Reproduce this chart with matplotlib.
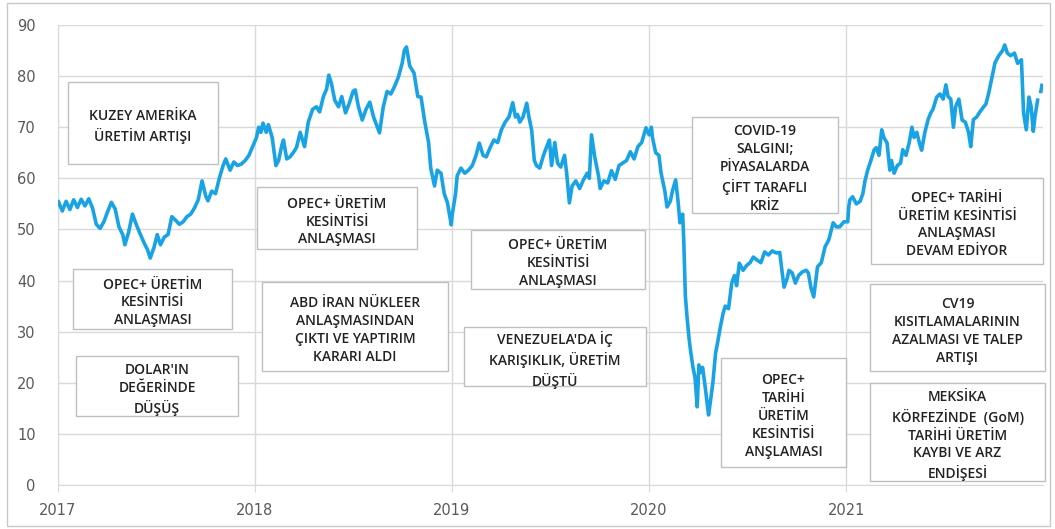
import matplotlib
matplotlib.use("Agg")
import matplotlib.pyplot as plt
from matplotlib.patches import Rectangle
import numpy as np
import pandas as pd

# ---------------- data (Brent, USD/bbl) ----------------
dates_2017 = ["2017-01-02","2017-01-09","2017-01-16","2017-01-23","2017-01-30","2017-02-06","2017-02-13",
              "2017-02-20","2017-02-27","2017-03-06","2017-03-13","2017-03-20","2017-03-27","2017-04-03",
              "2017-04-10","2017-04-17","2017-04-24","2017-05-01","2017-05-05","2017-05-12","2017-05-19",
              "2017-05-26","2017-06-02","2017-06-09","2017-06-16","2017-06-21","2017-06-28","2017-07-04",
              "2017-07-10","2017-07-17","2017-07-24","2017-07-31","2017-08-07","2017-08-14","2017-08-21",
              "2017-08-28","2017-09-04","2017-09-11","2017-09-18","2017-09-25","2017-10-02","2017-10-06",
              "2017-10-13","2017-10-20","2017-10-27","2017-11-03","2017-11-08","2017-11-16","2017-11-23",
              "2017-11-30","2017-12-07","2017-12-14","2017-12-21","2017-12-29"]
brent_2017 = [55.4,53.6,55.5,53.9,55.8,54.3,55.9,54.6,56.0,54.2,51.0,50.2,51.5,53.5,
              55.3,54.0,50.5,49.0,47.0,49.5,53.0,51.0,49.2,47.5,46.0,44.4,46.5,49.0,
              47.0,48.5,49.0,52.5,51.8,51.0,51.5,52.5,53.0,54.2,55.8,59.5,56.5,55.6,
              57.5,57.0,60.0,62.5,63.8,61.6,63.2,62.5,62.8,63.5,64.5,66.5]

dates_2018 = ["2018-01-04","2018-01-08","2018-01-12","2018-01-16","2018-01-22","2018-01-26","2018-02-02",
              "2018-02-09","2018-02-14","2018-02-20","2018-02-23","2018-03-01","2018-03-07","2018-03-13",
              "2018-03-19","2018-03-26","2018-04-03","2018-04-10","2018-04-18","2018-04-25","2018-05-01",
              "2018-05-08","2018-05-14","2018-05-18","2018-05-23","2018-05-29","2018-06-05","2018-06-11",
              "2018-06-18","2018-06-25","2018-07-02","2018-07-06","2018-07-12","2018-07-19","2018-07-26",
              "2018-08-02","2018-08-09","2018-08-16","2018-08-20","2018-08-27","2018-09-03","2018-09-10",
              "2018-09-17","2018-09-24","2018-10-01","2018-10-05","2018-10-09","2018-10-15","2018-10-23",
              "2018-10-30","2018-11-05","2018-11-12","2018-11-19","2018-11-23","2018-11-30","2018-12-05",
              "2018-12-12","2018-12-18","2018-12-24","2018-12-31"]
brent_2018 = [68.0,70.0,69.0,70.8,69.0,70.5,68.0,62.5,63.5,66.5,67.5,63.8,64.2,65.0,
              66.0,69.0,66.2,71.0,73.5,74.0,73.0,76.0,77.5,80.2,78.5,75.3,74.0,76.0,
              72.8,74.7,77.0,77.3,74.0,71.4,73.5,74.9,72.0,70.0,68.9,74.0,77.0,76.5,
              78.0,79.8,82.5,85.0,85.7,82.0,80.6,76.0,75.9,71.0,67.0,62.0,58.5,61.6,
              61.0,57.0,55.2,50.9]

dates_2019 = ["2019-01-02","2019-01-08","2019-01-11","2019-01-18","2019-01-25","2019-02-01","2019-02-08",
              "2019-02-15","2019-02-21","2019-02-28","2019-03-06","2019-03-13","2019-03-20","2019-03-27",
              "2019-04-03","2019-04-10","2019-04-17","2019-04-24","2019-04-29","2019-05-03","2019-05-07",
              "2019-05-13","2019-05-20","2019-05-24","2019-05-29","2019-06-03","2019-06-07","2019-06-13",
              "2019-06-20","2019-06-26","2019-07-01","2019-07-05","2019-07-11","2019-07-16","2019-07-22",
              "2019-07-29","2019-08-02","2019-08-07","2019-08-12","2019-08-19","2019-08-26","2019-09-02",
              "2019-09-09","2019-09-13","2019-09-17","2019-09-23","2019-09-30","2019-10-03","2019-10-10",
              "2019-10-17","2019-10-24","2019-10-31","2019-11-07","2019-11-14","2019-11-21","2019-11-28",
              "2019-12-05","2019-12-12","2019-12-19","2019-12-27","2019-12-31"]
brent_2019 = [53.0,57.0,60.5,62.0,61.0,61.6,62.5,64.5,66.9,64.5,64.2,66.0,67.5,67.0,
              69.5,71.0,72.0,74.8,72.0,72.5,71.0,72.0,74.7,72.0,69.5,63.5,62.5,62.0,
              64.5,66.2,67.5,62.5,67.0,63.0,62.2,64.5,61.0,55.2,58.5,59.5,58.0,59.7,
              61.0,60.0,68.5,64.2,60.5,58.0,59.5,59.1,61.5,59.8,62.5,63.0,63.5,65.2,
              63.8,66.2,67.0,69.9,68.9]

dates_2020 = ["2020-01-02","2020-01-06","2020-01-08","2020-01-14","2020-01-20","2020-01-24","2020-01-31",
              "2020-02-04","2020-02-10","2020-02-14","2020-02-20","2020-02-24","2020-02-28","2020-03-04",
              "2020-03-06","2020-03-09","2020-03-12","2020-03-16","2020-03-19","2020-03-23","2020-03-27",
              "2020-03-31","2020-04-03","2020-04-07","2020-04-10","2020-04-15","2020-04-21","2020-04-24",
              "2020-04-29","2020-05-04","2020-05-08","2020-05-13","2020-05-18","2020-05-22","2020-05-28",
              "2020-06-03","2020-06-08","2020-06-12","2020-06-17","2020-06-24","2020-07-01","2020-07-07",
              "2020-07-13","2020-07-20","2020-07-27","2020-08-03","2020-08-10","2020-08-17","2020-08-24",
              "2020-08-31","2020-09-04","2020-09-08","2020-09-14","2020-09-17","2020-09-23","2020-09-29",
              "2020-10-05","2020-10-12","2020-10-19","2020-10-23","2020-10-28","2020-11-02","2020-11-09",
              "2020-11-16","2020-11-23","2020-11-30","2020-12-08","2020-12-14","2020-12-20","2020-12-28"]
brent_2020 = [68.5,70.0,68.0,65.0,64.5,61.0,57.5,54.4,55.5,57.5,59.7,56.0,51.3,53.0,
              48.0,37.0,33.0,28.5,26.0,23.1,21.0,15.3,23.5,22.0,23.0,19.0,13.7,16.0,
              20.0,25.8,28.0,31.0,33.6,35.0,34.5,39.5,41.0,39.0,43.4,42.0,43.0,43.5,
              44.6,44.0,43.5,45.6,45.0,45.8,45.4,45.5,42.0,38.7,40.5,42.0,41.5,39.5,
              41.0,41.7,42.0,41.5,38.5,36.8,42.7,43.5,46.6,48.0,51.3,50.5,50.5,51.5]

dates_2021 = ["2021-01-04","2021-01-06","2021-01-08","2021-01-13","2021-01-20","2021-01-27","2021-02-01",
              "2021-02-05","2021-02-10","2021-02-16","2021-02-22","2021-02-26","2021-03-03","2021-03-08",
              "2021-03-12","2021-03-18","2021-03-23","2021-03-26","2021-03-31","2021-04-06","2021-04-12",
              "2021-04-16","2021-04-22","2021-04-28","2021-05-03","2021-05-07","2021-05-12","2021-05-17",
              "2021-05-21","2021-05-27","2021-06-02","2021-06-07","2021-06-11","2021-06-18","2021-06-24",
              "2021-06-30","2021-07-05","2021-07-09","2021-07-14","2021-07-19","2021-07-23","2021-07-29",
              "2021-08-04","2021-08-10","2021-08-16","2021-08-20","2021-08-25","2021-08-31","2021-09-06",
              "2021-09-13","2021-09-17","2021-09-22","2021-09-28","2021-10-04","2021-10-11","2021-10-18",
              "2021-10-22","2021-10-27","2021-11-02","2021-11-09","2021-11-15","2021-11-22","2021-11-26",
              "2021-12-01","2021-12-06","2021-12-10","2021-12-14","2021-12-17","2021-12-22","2021-12-26",
              "2021-12-28","2021-12-30"]
brent_2021 = [51.5,54.5,55.8,56.4,55.0,55.5,57.0,59.5,61.6,63.5,65.6,66.0,64.5,69.5,
              68.0,66.9,61.6,63.5,61.0,62.5,63.0,65.6,64.5,67.0,70.0,68.0,69.0,66.9,
              65.5,69.0,71.5,72.8,73.5,75.9,76.5,75.5,78.3,76.0,75.5,70.0,74.0,75.5,
              71.4,71.0,69.0,66.2,71.5,72.0,73.0,74.0,74.5,76.5,79.5,82.6,84.0,85.0,
              86.1,84.5,84.0,84.5,82.5,83.2,72.8,69.5,75.9,74.0,69.2,72.0,75.3,np.nan,
              77.0,78.2]

year_ticks = ["2017", "2018", "2019", "2020", "2021"]
y_ticks = [0, 10, 20, 30, 40, 50, 60, 70, 80, 90]

annotations = [
    "KUZEY AMERİKA\nÜRETİM ARTIŞI",
    "OPEC+ ÜRETİM\nKESİNTİSİ\nANLAŞMASI",
    "DOLAR'IN\nDEĞERİNDE\nDÜŞÜŞ",
    "OPEC+ ÜRETİM\nKESİNTİSİ\nANLAŞMASI",
    "ABD İRAN NÜKLEER\nANLAŞMASINDAN\nÇIKTI VE YAPTIRIM\nKARARI ALDI",
    "OPEC+ ÜRETİM\nKESİNTİSİ\nANLAŞMASI",
    "VENEZUELA'DA İÇ\nKARIŞIKLIK, ÜRETİM\nDÜŞTÜ",
    "COVID-19\nSALGINI;\nPİYASALARDA\nÇİFT TARAFLI\nKRİZ",
    "OPEC+ TARİHİ\nÜRETİM KESİNTİSİ\nANLAŞMASI\nDEVAM EDİYOR",
    "CV19\nKISITLAMALARININ\nAZALMASI VE TALEP\nARTIŞI",
    "MEKSİKA\nKÖRFEZİNDE  (GoM)\nTARİHİ ÜRETİM\nKAYBI VE ARZ\nENDİŞESİ",
    "OPEC+\nTARİHİ\nÜRETİM\nKESİNTİSİ\nANŞLAMASI",
]
# box layout in pixels: (left, top, right, bottom)
boxes_px = [
    (68, 82, 218, 164),
    (73, 269, 232, 329),
    (76, 356, 238, 416),
    (257, 187, 417, 249),
    (262, 282, 448, 371),
    (471, 230, 645, 289),
    (464, 327, 646, 386),
    (692, 117, 838, 213),
    (871, 178, 1043, 264),
    (870, 284, 1045, 371),
    (870, 383, 1045, 481),
    (721, 358, 846, 467),
]

# ---------------- figure ----------------
W, H = 1055, 529
fig = plt.figure(figsize=(W / 100, H / 100), dpi=100)
fig.patch.set_facecolor("white")

ax_left, ax_top, ax_bottom = 58, 25, 485
ax_right = 58 + 5 * 197
ax = fig.add_axes([ax_left / W, 1 - ax_bottom / H, (ax_right - ax_left) / W, (ax_bottom - ax_top) / H])

all_dates = pd.to_datetime(dates_2017 + dates_2018 + dates_2019 + dates_2020 + dates_2021)
all_vals = np.array(brent_2017 + brent_2018 + brent_2019 + brent_2020 + brent_2021, dtype=float)

ax.plot(all_dates, all_vals, color="#1AA3E4", lw=2.6, zorder=3, solid_joinstyle="round")

ax.set_xlim(pd.Timestamp("2017-01-01"), pd.Timestamp("2022-01-01"))
ax.set_ylim(0, 90)
ax.set_yticks(y_ticks)
ax.set_xticks([pd.Timestamp(f"{y}-01-01") for y in year_ticks])
ax.set_xticklabels(year_ticks)

grid_c = "#d9d9d9"
ax.grid(True, color=grid_c, lw=1.0, zorder=1)
ax.set_axisbelow(True)
for s in ["top", "right"]:
    ax.spines[s].set_visible(False)
ax.spines["left"].set_color(grid_c)
ax.spines["bottom"].set_color(grid_c)
ax.tick_params(axis="y", length=0, pad=16, labelsize=10.5, labelcolor="#595959")
ax.tick_params(axis="x", length=5, color=grid_c, pad=8, labelsize=10.5, labelcolor="#595959")
for lab in ax.get_xticklabels() + ax.get_yticklabels():
    lab.set_family("DejaVu Sans")

# annotation boxes
text_shift = 3.5  # px, downward
for txt, (l, t, r, b) in zip(annotations, boxes_px):
    rect = Rectangle((l / W, 1 - b / H), (r - l) / W, (b - t) / H, transform=fig.transFigure,
                     facecolor="white", edgecolor="#bfbfbf", lw=1.0, zorder=2, clip_on=False)
    ax.add_patch(rect)
    ax.text((l + r) / 2 / W, 1 - ((t + b) / 2 + text_shift) / H, txt, transform=fig.transFigure,
            ha="center", va="center", multialignment="center", fontsize=10,
            family="Open Sans", fontweight="semibold", color="#222222",
            linespacing=1.36, zorder=4, clip_on=False)

# outer frame
fig.patches.append(Rectangle((7 / W, 1 - 526 / H), (1050 - 7) / W, (526 - 3) / H,
                             transform=fig.transFigure, fill=False, edgecolor="#c8c8c8", lw=1.0))

fig.savefig("out.png", dpi=100)
